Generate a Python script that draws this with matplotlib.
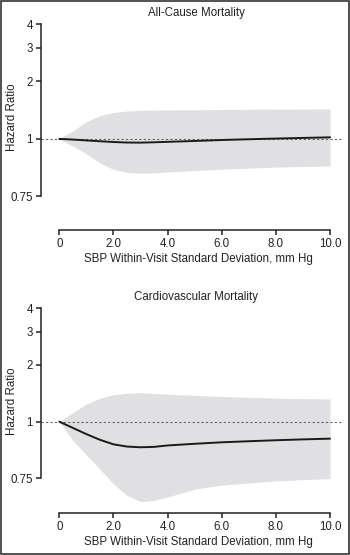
import numpy as np
import matplotlib
matplotlib.use("Agg")
import matplotlib.pyplot as plt
from matplotlib.patches import Rectangle

plt.rcParams['font.family'] = ['Liberation Sans', 'DejaVu Sans']

# ---- data ----
x_sd = [0, 0.25, 0.5, 1, 1.5, 2, 2.5, 3, 3.5, 4, 5, 6, 7, 8, 9, 10]

allcause_hr = [1.0, 0.9988, 0.9971, 0.9928, 0.9886, 0.9849, 0.9823, 0.9818, 0.9835, 0.9857,
               0.9900, 0.9948, 0.9986, 1.0049, 1.0126, 1.0196]
allcause_upper = [1.0, 1.053, 1.102, 1.231, 1.324, 1.376, 1.400, 1.412, 1.418, 1.419,
                  1.422, 1.426, 1.430, 1.433, 1.435, 1.436]
allcause_lower = [1.0, 0.9815, 0.9661, 0.9279, 0.8863, 0.8586, 0.8464, 0.8422, 0.8439, 0.8476,
                  0.8537, 0.8594, 0.8641, 0.8686, 0.8711, 0.8735]

cv_hr = [1.0, 0.9843, 0.9689, 0.9387, 0.9121, 0.8913, 0.8812, 0.8781, 0.8799, 0.8862,
         0.8938, 0.9005, 0.9055, 0.9100, 0.9140, 0.9174]
cv_upper = [1.0, 1.061, 1.117, 1.240, 1.333, 1.390, 1.414, 1.424, 1.414, 1.400,
            1.380, 1.361, 1.347, 1.333, 1.324, 1.320]
cv_lower = [1.0, 0.9523, 0.9095, 0.8439, 0.7855, 0.7287, 0.6880, 0.6666, 0.6704, 0.6822,
            0.7101, 0.7245, 0.7329, 0.7401, 0.7452, 0.7489]

titles = ["All-Cause Mortality", "Cardiovascular Mortality"]
y_ticks = [0.75, 1, 2, 3, 4]
y_ticklabels = ["0.75", "1", "2", "3", "4"]
x_ticks = [0, 2, 4, 6, 8, 10]
x_ticklabels = ["0", "2.0", "4.0", "6.0", "8.0", "10.0"]
xlabel = "SBP Within-Visit Standard Deviation, mm Hg"
ylabel = "Hazard Ratio"

# custom axis: log2 spacing above 1, log base 0.75 spacing below 1
def fwd(v):
    v = np.asarray(v, dtype=float)
    v = np.clip(v, 1e-9, None)
    return np.where(v >= 1, np.log2(v), -np.log(v) / np.log(0.75))

def inv(p):
    p = np.asarray(p, dtype=float)
    return np.where(p >= 0, 2.0 ** p, 0.75 ** (-p))

FS = 8.3
TXT = '#222222'

fig = plt.figure(figsize=(3.5, 5.55), dpi=100)
positions = [[0.1163, 0.5856, 0.86, 0.3784], [0.1163, 0.0751, 0.86, 0.3766]]
series = [(allcause_hr, allcause_upper, allcause_lower), (cv_hr, cv_upper, cv_lower)]
ylims = [(0.634, 4.2), (0.628, 4.2)]
ylab_y = [0.536, 0.538]

for pos, (hr, up, lo), title, yl, ly in zip(positions, series, titles, ylims, ylab_y):
    ax = fig.add_axes(pos)
    ax.set_yscale('function', functions=(fwd, inv))
    ax.fill_between(x_sd, lo, up, color='#e0e0e2', lw=0, zorder=1)
    ax.axhline(1, color='#666666', lw=0.8, ls=(0, (2, 2)), zorder=2)
    ax.plot(x_sd, hr, color='#1a1a1a', lw=1.4, zorder=3, solid_capstyle='round')
    ax.set_xlim(-0.687, 10.43)
    ax.set_ylim(*yl)
    ax.set_yticks(y_ticks)
    ax.set_yticklabels(y_ticklabels)
    ax.yaxis.set_minor_locator(matplotlib.ticker.NullLocator())
    ax.set_xticks(x_ticks)
    ax.set_xticklabels(x_ticklabels)
    for s in ['top', 'right']:
        ax.spines[s].set_visible(False)
    ax.spines['left'].set_bounds(0.75, 4)
    ax.spines['bottom'].set_bounds(0, 10)
    for s in ['left', 'bottom']:
        ax.spines[s].set_linewidth(1.1)
        ax.spines[s].set_color(TXT)
    ax.tick_params(axis='both', direction='out', length=3.6, width=1.1, color=TXT,
                   labelsize=FS, labelcolor=TXT, pad=2)
    ax.set_xlabel(xlabel, fontsize=FS, color=TXT, labelpad=2)
    ax.xaxis.label.set_x(0.523)
    ax.set_ylabel(ylabel, fontsize=FS, color=TXT)
    ax.yaxis.set_label_coords(-0.074, ly)
    ax.set_title(title, fontsize=FS, color=TXT, pad=3, x=0.516)
    ax.patch.set_alpha(0)

fig.patches.append(Rectangle((0.002, 0.002), 0.996, 0.996, transform=fig.transFigure,
                             fill=False, edgecolor='#333333', lw=1.2))
fig.savefig("out.png", dpi=100)
